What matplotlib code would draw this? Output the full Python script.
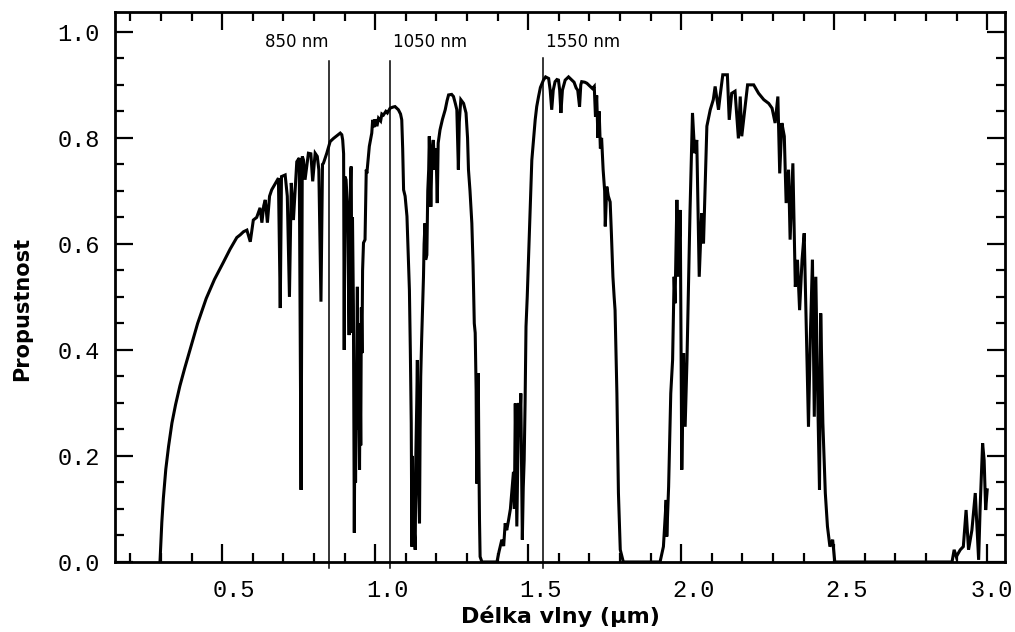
import matplotlib
matplotlib.use("Agg")
import matplotlib.pyplot as plt
import matplotlib.transforms as mtransforms
from matplotlib.ticker import MultipleLocator

# atmospheric transmittance
wavelength = [
    0.297, 0.303, 0.308, 0.316, 0.325, 0.336, 0.348, 0.362, 0.378, 0.395,
    0.420, 0.448, 0.475, 0.503, 0.526, 0.548,
    0.559, 0.570, 0.581, 0.592, 0.602, 0.613, 0.624, 0.630, 0.636, 0.641,
    0.648, 0.655, 0.662, 0.684, 0.690, 0.694, 0.706, 0.713, 0.720, 0.726,
    0.733, 0.744, 0.752, 0.758, 0.762, 0.766, 0.771, 0.782, 0.790, 0.796,
    0.804, 0.811, 0.816, 0.823, 0.828, 0.831, 0.842, 0.853, 0.864, 0.875,
    0.886, 0.891, 0.894, 0.897, 0.899, 0.901, 0.905, 0.907, 0.909, 0.911,
    0.913, 0.915, 0.917, 0.920, 0.922, 0.924, 0.926, 0.929, 0.931, 0.932,
    0.934, 0.936, 0.938, 0.940, 0.942, 0.944, 0.946, 0.949, 0.951, 0.953,
    0.955, 0.957, 0.959, 0.962, 0.967, 0.971, 0.973, 0.981, 0.989, 0.992,
    0.996, 1.000, 1.006, 1.011, 1.018, 1.022, 1.027, 1.035, 1.040, 1.049,
    1.058, 1.065, 1.076, 1.083, 1.087, 1.090, 1.093, 1.098, 1.104, 1.108,
    1.112, 1.115, 1.118, 1.120, 1.122, 1.124, 1.126, 1.128, 1.131, 1.133,
    1.136, 1.138, 1.141, 1.145, 1.147, 1.149, 1.152, 1.155, 1.158, 1.160,
    1.163, 1.165, 1.169, 1.172, 1.175, 1.177, 1.180, 1.182, 1.186, 1.190,
    1.195, 1.199, 1.203, 1.206, 1.212, 1.220, 1.229, 1.235, 1.240, 1.250,
    1.256, 1.262, 1.267, 1.270, 1.272, 1.275, 1.280, 1.285, 1.289, 1.297,
    1.302, 1.305, 1.310, 1.316, 1.320, 1.324, 1.327, 1.330, 1.332, 1.335,
    1.337, 1.339, 1.341, 1.343, 1.349, 1.398, 1.405, 1.414, 1.420, 1.425,
    1.430, 1.436, 1.442, 1.447, 1.452, 1.455, 1.458, 1.460, 1.463, 1.466,
    1.469, 1.472, 1.476, 1.478, 1.481, 1.484, 1.487, 1.490, 1.493, 1.497,
    1.501, 1.506, 1.512, 1.518, 1.523, 1.528, 1.534, 1.540, 1.550, 1.557,
    1.567, 1.572, 1.577, 1.582, 1.588, 1.594, 1.599, 1.603, 1.607, 1.612,
    1.621, 1.632, 1.643, 1.650, 1.657, 1.662, 1.668, 1.672, 1.675, 1.685,
    1.692, 1.703, 1.710, 1.716, 1.720, 1.724, 1.728, 1.732, 1.736, 1.740,
    1.745, 1.750, 1.752, 1.757, 1.762, 1.768, 1.772, 1.777, 1.781, 1.784,
    1.787, 1.790, 1.795, 1.801, 1.811, 1.931, 1.942, 1.951, 1.953, 1.959,
    1.966, 1.972, 1.977, 1.980, 1.986, 1.991, 1.997, 2.002, 2.008, 2.013,
    2.019, 2.029, 2.037, 2.044, 2.051, 2.059, 2.067, 2.073, 2.084, 2.095,
    2.105, 2.111, 2.122, 2.127, 2.136, 2.151, 2.157, 2.165, 2.176, 2.187,
    2.193, 2.198, 2.209, 2.217, 2.237, 2.253, 2.270, 2.286, 2.297, 2.307,
    2.316, 2.322, 2.329, 2.337, 2.343, 2.351, 2.356, 2.365, 2.373, 2.380,
    2.387, 2.395, 2.402, 2.409, 2.416, 2.422, 2.429, 2.435, 2.440, 2.447,
    2.452, 2.456, 2.463, 2.471, 2.478, 2.486, 2.495, 2.502, 2.885, 2.892,
    2.899, 2.912, 2.922, 2.931, 2.939, 2.950, 2.961, 2.972, 2.977, 2.985,
    2.990, 2.995, 3.000,
]
transmittance = [
    0.000, 0.075, 0.120, 0.175, 0.218, 0.262, 0.297, 0.332, 0.366, 0.400,
    0.450, 0.497, 0.533, 0.564, 0.590, 0.612,
    0.617, 0.623, 0.626, 0.604, 0.645, 0.650, 0.668, 0.640, 0.672, 0.683,
    0.640, 0.690, 0.702, 0.724, 0.479, 0.727, 0.730, 0.690, 0.500, 0.715,
    0.645, 0.755, 0.762, 0.136, 0.765, 0.758, 0.721, 0.771, 0.770, 0.718,
    0.771, 0.765, 0.740, 0.491, 0.750, 0.752, 0.771, 0.793, 0.799, 0.804,
    0.809, 0.806, 0.796, 0.770, 0.400, 0.727, 0.721, 0.700, 0.677, 0.600,
    0.507, 0.428, 0.600, 0.740, 0.746, 0.432, 0.650, 0.482, 0.187, 0.055,
    0.300, 0.150, 0.262, 0.400, 0.519, 0.250, 0.450, 0.174, 0.350, 0.220,
    0.480, 0.394, 0.550, 0.602, 0.608, 0.740, 0.733, 0.784, 0.809, 0.834,
    0.820, 0.835, 0.822, 0.837, 0.832, 0.845, 0.843, 0.850, 0.847, 0.856,
    0.858, 0.859, 0.853, 0.845, 0.834, 0.780, 0.702, 0.690, 0.652, 0.580,
    0.513, 0.400, 0.262, 0.029, 0.200, 0.100, 0.148, 0.060, 0.023, 0.200,
    0.300, 0.381, 0.150, 0.073, 0.250, 0.350, 0.420, 0.480, 0.538, 0.600,
    0.639, 0.570, 0.579, 0.700, 0.740, 0.803, 0.720, 0.670, 0.780, 0.796,
    0.740, 0.780, 0.677, 0.790, 0.815, 0.835, 0.853, 0.870, 0.881, 0.882,
    0.878, 0.865, 0.853, 0.780, 0.740, 0.830, 0.872, 0.868, 0.865, 0.847,
    0.800, 0.740, 0.700, 0.639, 0.560, 0.450, 0.432, 0.325, 0.148, 0.300,
    0.356, 0.200, 0.080, 0.010, 0.000, 0.000, 0.020, 0.042, 0.030, 0.073,
    0.060, 0.079, 0.100, 0.136, 0.170, 0.100, 0.299, 0.200, 0.067, 0.180,
    0.300, 0.236, 0.318, 0.200, 0.042, 0.140, 0.192, 0.300, 0.444, 0.500,
    0.570, 0.660, 0.758, 0.800, 0.834, 0.859, 0.878, 0.895, 0.909, 0.915,
    0.912, 0.890, 0.853, 0.890, 0.906, 0.910, 0.909, 0.890, 0.847, 0.890,
    0.909, 0.915, 0.909, 0.905, 0.894, 0.890, 0.859, 0.900, 0.906, 0.905,
    0.903, 0.897, 0.893, 0.897, 0.840, 0.880, 0.800, 0.850, 0.780, 0.800,
    0.740, 0.700, 0.633, 0.708, 0.690, 0.679, 0.620, 0.538, 0.500, 0.475,
    0.400, 0.318, 0.130, 0.023, 0.000, 0.000, 0.029, 0.117, 0.048, 0.142,
    0.318, 0.381, 0.538, 0.488, 0.683, 0.538, 0.664, 0.174, 0.394, 0.255,
    0.381, 0.664, 0.847, 0.771, 0.796, 0.538, 0.658, 0.601, 0.822, 0.853,
    0.872, 0.897, 0.853, 0.878, 0.919, 0.919, 0.834, 0.884, 0.888, 0.799,
    0.878, 0.803, 0.859, 0.900, 0.900, 0.884, 0.872, 0.865, 0.856, 0.828,
    0.878, 0.733, 0.828, 0.803, 0.677, 0.740, 0.608, 0.752, 0.519, 0.570,
    0.475, 0.570, 0.620, 0.438, 0.255, 0.425, 0.570, 0.274, 0.538, 0.287,
    0.136, 0.469, 0.262, 0.130, 0.067, 0.029, 0.042, 0.000, 0.000, 0.023,
    0.010, 0.023, 0.029, 0.098, 0.023, 0.060, 0.130, 0.004, 0.104, 0.224,
    0.192, 0.098, 0.136,
]

# marked wavelengths
marker_wl = [0.85, 1.05, 1.55]
marker_top = [0.945, 0.945, 0.951]
marker_text = ["850 nm", "1050 nm", "1550 nm"]
marker_ha = ["right", "left", "left"]

fig = plt.figure(figsize=(10.15, 6.32), dpi=100)
ax = fig.add_axes([0.1133, 0.1108, 0.8768, 0.8707])

ax.plot(wavelength, transmittance, color="black", linewidth=2.2,
        solid_joinstyle="miter")

for wl, top, txt, ha in zip(marker_wl, marker_top, marker_text, marker_ha):
    ax.plot([wl, wl], [-0.012, top], color="black", linewidth=1.1, clip_on=False)
    dx = -0.003 if ha == "right" else 0.009
    ax.text(wl + dx, 0.981, txt, ha=ha, va="center", fontsize=12,
            family="DejaVu Sans")

ax.set_xlim(0.150, 3.058)
ax.set_ylim(0.0, 1.038)

ax.xaxis.set_major_locator(MultipleLocator(0.5))
ax.xaxis.set_minor_locator(MultipleLocator(0.1))
ax.yaxis.set_major_locator(MultipleLocator(0.2))
ax.yaxis.set_minor_locator(MultipleLocator(0.05))
ax.xaxis.set_major_formatter(lambda v, p: f"{v:.1f}")
ax.yaxis.set_major_formatter(lambda v, p: f"{v:.1f}")

ax.tick_params(which="both", direction="in", top=True, right=True,
               width=1.6, color="black")
ax.tick_params(which="major", length=13)
ax.tick_params(which="minor", length=6.5)
ax.tick_params(axis="x", which="major", pad=12)
ax.tick_params(axis="y", which="major", pad=11)

for spine in ax.spines.values():
    spine.set_linewidth(2.0)

# tick labels in a typewriter font; x labels sit a bit right of their ticks
fig.canvas.draw()
for tick in ax.xaxis.get_major_ticks():
    lab = tick.label1
    dx = 0.045 if abs(tick.get_loc() - 3.0) < 1e-6 else 0.12
    shift = mtransforms.ScaledTranslation(dx, 0, fig.dpi_scale_trans)
    lab.set_fontfamily("Liberation Mono")
    lab.set_fontsize(17)
    lab.set_transform(lab.get_transform() + shift)
for lab in ax.get_yticklabels():
    lab.set_fontfamily("Liberation Mono")
    lab.set_fontsize(17)

ax.set_xlabel("Délka vlny (µm)", fontsize=16, fontweight="bold",
              family="DejaVu Sans", labelpad=3)
ax.set_ylabel("Propustnost", fontsize=15, fontweight="bold",
              family="DejaVu Sans")
ax.yaxis.set_label_coords(-0.093, 0.46)

fig.savefig("out.png", dpi=100)
